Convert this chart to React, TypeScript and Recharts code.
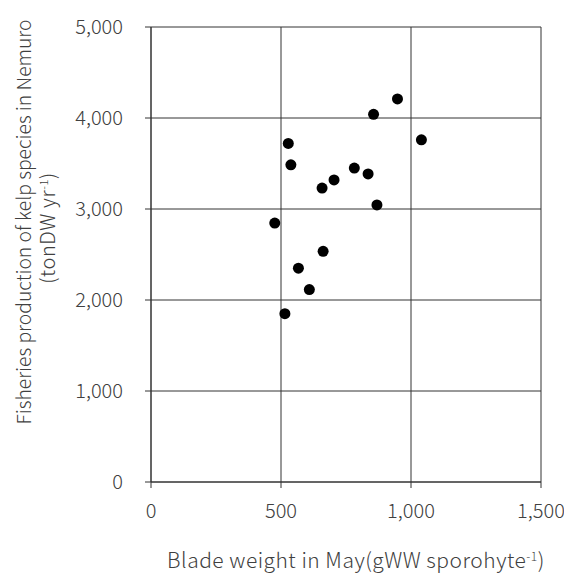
import { ScatterChart, Scatter, XAxis, YAxis, CartesianGrid } from 'recharts';

// Blade weight in May (gWW sporohyte-1)
const bladeWeight = [948, 856, 1040, 528, 538, 782, 835, 704, 658, 869, 476, 662, 567, 609, 515];
// Fisheries production (tonDW yr-1)
const production = [4210, 4040, 3760, 3720, 3485, 3450, 3385, 3320, 3230, 3045, 2845, 2535, 2350, 2115, 1850];

const xTicks = [0, 500, 1000, 1500];
const yTicks = [0, 1000, 2000, 3000, 4000, 5000];

const points = bladeWeight.map((x, i) => ({ x, y: production[i] }));

const FONT = '"Noto Sans CJK JP", "Noto Sans", sans-serif';
const TEXT = '#404040';
const GRID = '#333';

const fmt = (v: number) => v.toLocaleString('en-US');

function Dot(props: any) {
  return <circle cx={props.cx} cy={props.cy} r={5.5} fill="#000" />;
}

function YTitle() {
  return (
    <g fill={TEXT} fontFamily={FONT} fontSize={19.3} fontWeight={300}>
      <text transform="translate(31,222) rotate(-90)" textAnchor="middle">
        Fisheries production of kelp species in Nemuro
      </text>
      <text transform="translate(55,228) rotate(-90)" textAnchor="middle" fontSize={20} letterSpacing={0.6}>
        (tonDW yr<tspan dy={-7} fontSize={11}>-1</tspan>
        <tspan dy={7}>)</tspan>
      </text>
    </g>
  );
}

function XTitle() {
  return (
    <text x={356} y={568} textAnchor="middle" fill={TEXT} fontFamily={FONT} fontSize={21} fontWeight={300}
      letterSpacing={0.5}>
      Blade weight in May(gWW sporohyte<tspan dy={-7} fontSize={12}>-1</tspan>
      <tspan dy={7}>)</tspan>
    </text>
  );
}

export default function App() {
  return (
    <div style={{ width: 564, height: 574, background: '#fff', position: 'relative' }}>
      <style>{'body{margin:0}'}</style>
      <ScatterChart width={564} height={574} margin={{ top: 27, right: 23, left: 0, bottom: 0 }}>
        <CartesianGrid stroke={GRID} horizontalValues={yTicks} verticalValues={xTicks} />
        <XAxis
          type="number"
          dataKey="x"
          domain={[0, 1500]}
          ticks={xTicks}
          height={92}
          tickSize={6}
          tickMargin={16}
          tickFormatter={fmt}
          stroke={GRID}
          tick={{ fill: TEXT, fontSize: 20, fontFamily: FONT, fontWeight: 300 }}
          label={<XTitle />}
        />
        <YAxis
          type="number"
          dataKey="y"
          domain={[0, 5000]}
          ticks={yTicks}
          width={151}
          tickSize={6}
          tickMargin={22}
          tickFormatter={fmt}
          stroke={GRID}
          tick={{ fill: TEXT, fontSize: 20, fontFamily: FONT, fontWeight: 300 }}
          label={<YTitle />}
        />
        <Scatter data={points} shape={<Dot />} isAnimationActive={false} />
      </ScatterChart>
    </div>
  );
}
